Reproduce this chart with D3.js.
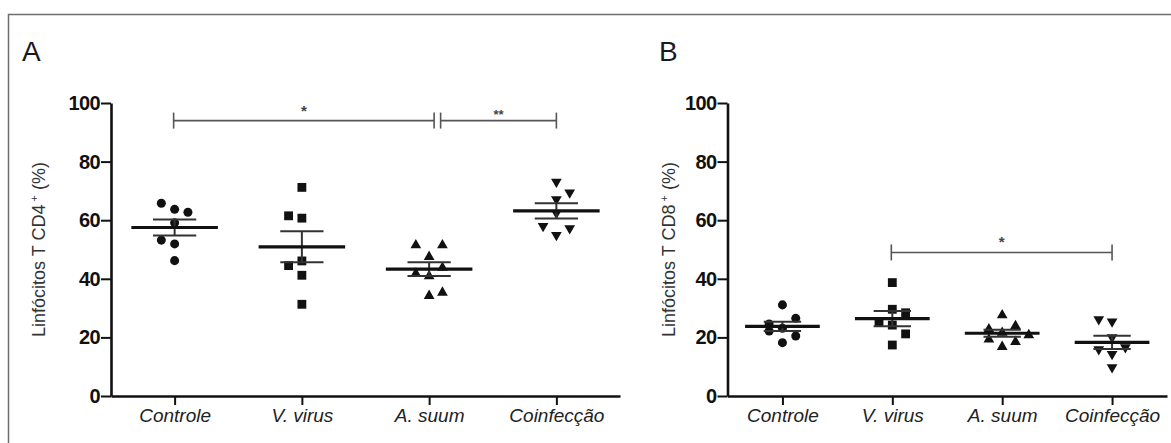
<!DOCTYPE html>
<html>
<head>
<meta charset="utf-8">
<script src="https://cdn.jsdelivr.net/npm/d3@7"></script>
<style>
body { margin: 0; background: #fff; }
svg { display: block; font-family: "Liberation Sans", Arial, sans-serif; }
</style>
</head>
<body>
<svg id="chart" width="1171" height="443"></svg>
<script>
// groups on the x axis
var categories = ["Controle", "V. virus", "A. suum", "Coinfecção"];
var yTicks = [0, 20, 40, 60, 80, 100];

// panel A - Linfocitos T CD4+ (%), one value per animal
var cd4Controle = [65.8, 63.7, 62.7, 59.1, 53.2, 51.9, 46.2];
var cd4Virus    = [71.2, 61.5, 60.7, 46.1, 44.5, 41.2, 31.3];
var cd4Suum     = [51.5, 51.5, 47.5, 43.8, 41.8, 40.9, 34.2, 35.3];
var cd4Coinf    = [73.1, 69.4, 67.1, 62.4, 58.0, 57.2, 54.9];

// panel B - Linfocitos T CD8+ (%)
var cd8Controle = [31.1, 26.5, 24.6, 23.1, 22.2, 20.5, 18.2];
var cd8Virus    = [38.7, 29.6, 28.4, 25.4, 24.2, 21.2, 17.4];
var cd8Suum     = [27.6, 22.8, 23.9, 21.6, 20.8, 19.3, 18.5, 16.8];
var cd8Coinf    = [26.2, 25.4, 20.0, 15.9, 16.6, 14.3, 9.8];

// column of each point in the scatter spread (as Prism placed them)
var cd4ControleCols = [-1, 0, 1, 0, -1, 0, 0];
var cd4VirusCols    = [0, -1, 0, 0, -1, 0, 0];
var cd4SuumCols     = [-1, 1, 0, 1, -1, 0, 0, 1];
var cd4CoinfCols    = [0, 1, 0, 0, -1, 1, 0];
var cd8ControleCols = [0, 1, -1, 0, -1, 1, 0];
var cd8VirusCols    = [0, 0, 1, -1, 0, 1, 0];
var cd8SuumCols     = [0, -1, 1, 0, 2, -1, 1, 0];
var cd8CoinfCols    = [-1, 0, 0, -1, 1, 0, 0];

// significance brackets: group indexes, level (%) and label
var cd4Signif = [{from: 0, to: 2, level: 94, label: "*"}, {from: 2, to: 3, level: 94, label: "**"}];
var cd8Signif = [{from: 1, to: 3, level: 49, label: "*"}];

var symbols = [d3.symbolCircle, d3.symbolSquare, d3.symbolTriangle, d3.symbolTriangle];
var symbolSizes = [64, 78, 50, 50];
var flipped = [false, false, false, true];

var svg = d3.select("#chart");

// panel frame
svg.append("path")
    .attr("d", "M8.5,450 V14.5 H1180")
    .attr("fill", "none")
    .attr("stroke", "#6e6e6e")
    .attr("stroke-width", 1.5);

function drawPanel(p) {
    var x = d3.scalePoint().domain(categories).range([p.left, p.right]).padding(0.5);
    var y = d3.scaleLinear().domain([0, 100]).range([396, 103]);
    var step = x.step();
    var spread = 13.3;

    var g = svg.append("g");

    // panel letter
    g.append("text")
        .attr("x", p.letterX).attr("y", 61)
        .attr("font-size", 28).attr("fill", "#1a1a1a")
        .text(p.letter);

    // y axis
    var ya = g.append("g")
        .attr("transform", "translate(" + p.left + ",0)")
        .call(d3.axisLeft(y).tickValues(yTicks).tickSize(10).tickSizeOuter(0).tickPadding(1));
    ya.selectAll("text").attr("font-size", 20).attr("font-weight", "bold").attr("fill", "#111")
        .attr("font-family", "'Liberation Sans', Arial, sans-serif").attr("letter-spacing", -0.6);

    // x axis
    var xa = g.append("g")
        .attr("transform", "translate(0," + y(0) + ")")
        .call(d3.axisBottom(x).tickSize(9).tickSizeOuter(0).tickPadding(4));
    xa.selectAll("text").attr("font-size", 19).attr("font-style", "italic").attr("fill", "#222")
        .attr("font-family", "'Liberation Sans', Arial, sans-serif");

    g.selectAll(".domain").attr("stroke", "#111").attr("stroke-width", 2.6);
    g.selectAll(".tick line").attr("stroke", "#111").attr("stroke-width", 2);

    // y axis title
    var t = g.append("text")
        .attr("transform", "translate(" + p.titleX + "," + (y(0) + y(100)) / 2 + ") rotate(-90)")
        .attr("text-anchor", "middle")
        .attr("font-size", 18).attr("fill", "#333");
    t.append("tspan").text("Linfócitos T " + p.marker);
    t.append("tspan").attr("font-size", 11).attr("dy", -7).attr("dx", 3).text("+");
    t.append("tspan").attr("dy", 7).text(" (%)");

    // points
    p.groups.forEach(function(vals, i) {
        var cols = p.cols[i];
        var sym = d3.symbol().type(symbols[i]).size(symbolSizes[i]);
        g.append("g").selectAll("path")
            .data(vals)
            .join("path")
            .attr("d", sym)
            .attr("fill", "#111")
            .attr("transform", function(d, j) {
                var tr = "translate(" + (x(categories[i]) + cols[j] * spread) + "," + y(d) + ")";
                return flipped[i] ? tr + " rotate(180)" : tr;
            });
    });

    // mean and SEM
    p.groups.forEach(function(vals, i) {
        var cx = x(categories[i]);
        var m = d3.mean(vals);
        var sem = d3.deviation(vals) / Math.sqrt(vals.length);
        var eb = g.append("g").attr("stroke", "#333").attr("stroke-width", 2);
        eb.append("line").attr("x1", cx).attr("x2", cx).attr("y1", y(m - sem)).attr("y2", y(m + sem));
        [m - sem, m + sem].forEach(function(v) {
            eb.append("line").attr("x1", cx - step * 0.17).attr("x2", cx + step * 0.17)
                .attr("y1", y(v)).attr("y2", y(v));
        });
        g.append("line")
            .attr("x1", cx - step * 0.34).attr("x2", cx + step * 0.34)
            .attr("y1", y(m)).attr("y2", y(m))
            .attr("stroke", "#111").attr("stroke-width", 3.2);
    });

    // significance brackets
    p.signif.forEach(function(s) {
        var x1 = x(categories[s.from]) + (s.from == 2 ? 11.5 : -1);
        var x2 = x(categories[s.to]) + (s.to == 2 ? 5 : 0);
        var by = y(s.level);
        var b = g.append("g").attr("stroke", "#555").attr("stroke-width", 1.6);
        b.append("line").attr("x1", x1).attr("x2", x2).attr("y1", by).attr("y2", by);
        b.append("line").attr("x1", x1).attr("x2", x1).attr("y1", by - 8).attr("y2", by + 8);
        b.append("line").attr("x1", x2).attr("x2", x2).attr("y1", by - 8).attr("y2", by + 8);
        g.append("text")
            .attr("x", (x1 + x2) / 2).attr("y", by - (s.label.length > 1 ? 2 : 5))
            .attr("text-anchor", "middle")
            .attr("font-size", s.label.length > 1 ? 13 : 15)
            .attr("font-weight", "bold")
            .attr("fill", "#444")
            .text(s.label);
    });
}

drawPanel({
    left: 111, right: 620, letter: "A", letterX: 22, titleX: 45, marker: "CD4",
    groups: [cd4Controle, cd4Virus, cd4Suum, cd4Coinf],
    cols: [cd4ControleCols, cd4VirusCols, cd4SuumCols, cd4CoinfCols],
    signif: cd4Signif
});

drawPanel({
    left: 727.5, right: 1167, letter: "B", letterX: 659, titleX: 675, marker: "CD8",
    groups: [cd8Controle, cd8Virus, cd8Suum, cd8Coinf],
    cols: [cd8ControleCols, cd8VirusCols, cd8SuumCols, cd8CoinfCols],
    signif: cd8Signif
});
</script>
</body>
</html>
